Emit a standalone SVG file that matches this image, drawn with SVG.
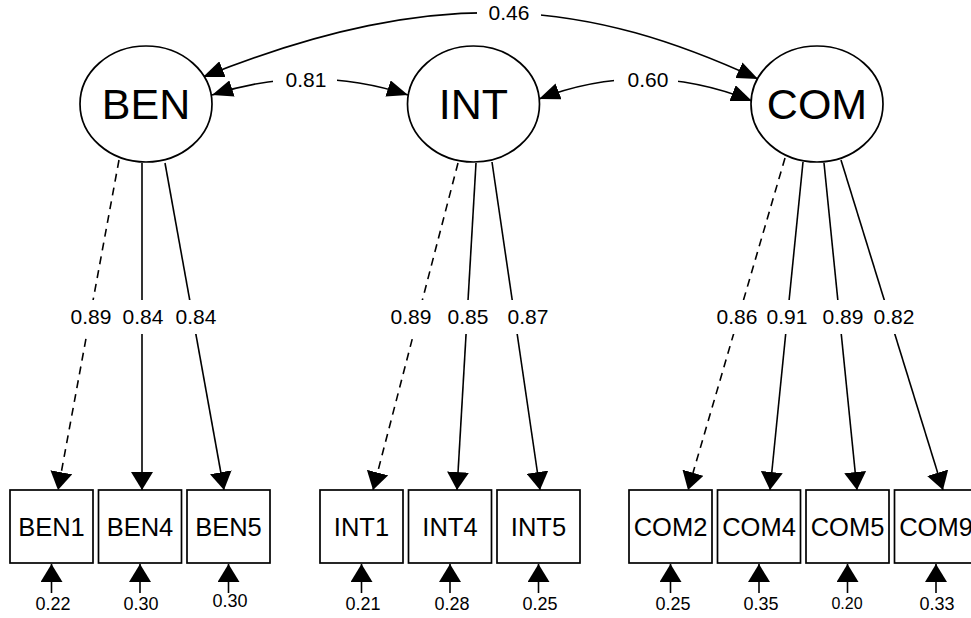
<svg xmlns="http://www.w3.org/2000/svg" width="971" height="618" viewBox="0 0 971 618">
<style>
  text { font-family: "Liberation Sans", Arial, Helvetica, sans-serif; fill: #000; }
  .lat { fill: #fff; stroke: #000; stroke-width: 1.7; }
  .obs { fill: #fff; stroke: #000; stroke-width: 1.7; }
  .latt { font-size: 43px; text-anchor: middle; }
  .obst { font-size: 25.5px; text-anchor: middle; }
  .lbl { font-size: 21px; text-anchor: middle; }
  .err { font-size: 18px; text-anchor: middle; }
  .ln { fill: none; stroke: #000; stroke-width: 1.6; }
  .dash { stroke-dasharray: 8 6; }
  .bg { fill: #fff; stroke: none; }
</style>
<defs>
  <marker id="ah" markerUnits="userSpaceOnUse" markerWidth="18" markerHeight="22" refX="18" refY="11" orient="auto" viewBox="0 0 18 22">
    <path d="M0,0 L18,11 L0,22 z" fill="#000"/>
  </marker>
  <marker id="ac" markerUnits="userSpaceOnUse" markerWidth="21" markerHeight="17" refX="21" refY="8.5" orient="auto-start-reverse" viewBox="0 0 21 17">
    <path d="M0,0 L21,8.5 L0,17 z" fill="#000"/>
  </marker>
</defs>
<rect width="971" height="618" fill="#fff"/>

<g id="connectors">
  <path class="ln" d="M203,77 C445,-20 592,2.6 758,79" marker-start="url(#ac)" marker-end="url(#ac)"/>
  <path class="ln" d="M212,95 Q310,63 408,95" marker-start="url(#ac)" marker-end="url(#ac)"/>
  <path class="ln" d="M539,99 Q645,58 752,101" marker-start="url(#ac)" marker-end="url(#ac)"/>
  <line class="ln dash" x1="119" y1="160" x2="58" y2="490" marker-end="url(#ah)"/>
  <line class="ln" x1="142" y1="163" x2="142" y2="490" marker-end="url(#ah)"/>
  <line class="ln" x1="165" y1="163" x2="224" y2="490" marker-end="url(#ah)"/>
  <line class="ln dash" x1="458" y1="163" x2="373" y2="490" marker-end="url(#ah)"/>
  <line class="ln" x1="476" y1="163" x2="457" y2="490" marker-end="url(#ah)"/>
  <line class="ln" x1="492" y1="162" x2="540" y2="490" marker-end="url(#ah)"/>
  <line class="ln dash" x1="785" y1="158" x2="688" y2="490" marker-end="url(#ah)"/>
  <line class="ln" x1="803" y1="162" x2="770" y2="490" marker-end="url(#ah)"/>
  <line class="ln" x1="824" y1="163" x2="857" y2="490" marker-end="url(#ah)"/>
  <line class="ln" x1="841" y1="160" x2="943" y2="490" marker-end="url(#ah)"/>
  <line class="ln" x1="51.5" y1="593" x2="51.5" y2="564" marker-end="url(#ah)"/>
  <line class="ln" x1="140" y1="593" x2="140" y2="564" marker-end="url(#ah)"/>
  <line class="ln" x1="228.5" y1="593" x2="228.5" y2="564" marker-end="url(#ah)"/>
  <line class="ln" x1="361.5" y1="593" x2="361.5" y2="564" marker-end="url(#ah)"/>
  <line class="ln" x1="450" y1="593" x2="450" y2="564" marker-end="url(#ah)"/>
  <line class="ln" x1="538.5" y1="593" x2="538.5" y2="564" marker-end="url(#ah)"/>
  <line class="ln" x1="670.5" y1="593" x2="670.5" y2="564" marker-end="url(#ah)"/>
  <line class="ln" x1="759" y1="593" x2="759" y2="564" marker-end="url(#ah)"/>
  <line class="ln" x1="847.5" y1="593" x2="847.5" y2="564" marker-end="url(#ah)"/>
  <line class="ln" x1="936" y1="593" x2="936" y2="564" marker-end="url(#ah)"/>

  <rect class="bg" x="477" y="2" width="64" height="24"/>
  <text class="lbl" x="509" y="20">0.46</text>
  <rect class="bg" x="273" y="70" width="64" height="24"/>
  <text class="lbl" x="306" y="87">0.81</text>
  <rect class="bg" x="614" y="70" width="64" height="24"/>
  <text class="lbl" x="648" y="87">0.60</text>

  <rect class="bg" x="66" y="300" width="50" height="34"/>
  <text class="lbl" x="91" y="324">0.89</text>
  <rect class="bg" x="118" y="300" width="50" height="34"/>
  <text class="lbl" x="143" y="324">0.84</text>
  <rect class="bg" x="171" y="300" width="50" height="34"/>
  <text class="lbl" x="196" y="324">0.84</text>
  <rect class="bg" x="386" y="300" width="50" height="34"/>
  <text class="lbl" x="411" y="324">0.89</text>
  <rect class="bg" x="443" y="300" width="50" height="34"/>
  <text class="lbl" x="468" y="324">0.85</text>
  <rect class="bg" x="503" y="300" width="50" height="34"/>
  <text class="lbl" x="528" y="324">0.87</text>
  <rect class="bg" x="712" y="300" width="50" height="34"/>
  <text class="lbl" x="737" y="324">0.86</text>
  <rect class="bg" x="762" y="300" width="50" height="34"/>
  <text class="lbl" x="787" y="324">0.91</text>
  <rect class="bg" x="818" y="300" width="50" height="34"/>
  <text class="lbl" x="843" y="324">0.89</text>
  <rect class="bg" x="869" y="300" width="50" height="34"/>
  <text class="lbl" x="894" y="324">0.82</text>

  <text class="err" x="53" y="610">0.22</text>
  <text class="err" x="141" y="610">0.30</text>
  <text class="err" x="230" y="607">0.30</text>
  <text class="err" x="363" y="610">0.21</text>
  <text class="err" x="452" y="610">0.28</text>
  <text class="err" x="540" y="610">0.25</text>
  <text class="err" x="673" y="610">0.25</text>
  <text class="err" x="761" y="610">0.35</text>
  <text class="err" x="847" y="609" style="font-size:16px">0.20</text>
  <text class="err" x="937" y="610">0.33</text>
</g>

<g id="BEN">
  <ellipse class="lat" cx="146" cy="104" rx="66" ry="58"/>
  <text class="latt" x="146" y="119">BEN</text>
</g>
<g id="INT">
  <ellipse class="lat" cx="473.5" cy="104" rx="66" ry="58"/>
  <text class="latt" x="473.5" y="119">INT</text>
</g>
<g id="COM">
  <ellipse class="lat" cx="817" cy="104" rx="66" ry="58"/>
  <text class="latt" x="817" y="119">COM</text>
</g>

<g id="BEN1"><rect class="obs" x="10" y="490" width="83" height="73"/><text class="obst" x="51.5" y="536">BEN1</text></g>
<g id="BEN4"><rect class="obs" x="98.5" y="490" width="83" height="73"/><text class="obst" x="140" y="536">BEN4</text></g>
<g id="BEN5"><rect class="obs" x="187" y="490" width="83" height="73"/><text class="obst" x="228.5" y="536">BEN5</text></g>
<g id="INT1"><rect class="obs" x="320" y="490" width="83" height="73"/><text class="obst" x="361.5" y="536">INT1</text></g>
<g id="INT4"><rect class="obs" x="408.5" y="490" width="83" height="73"/><text class="obst" x="450" y="536">INT4</text></g>
<g id="INT5"><rect class="obs" x="497" y="490" width="83" height="73"/><text class="obst" x="538.5" y="536">INT5</text></g>
<g id="COM2"><rect class="obs" x="629" y="490" width="83" height="73"/><text class="obst" x="670.5" y="536">COM2</text></g>
<g id="COM4"><rect class="obs" x="717.5" y="490" width="83" height="73"/><text class="obst" x="759" y="536">COM4</text></g>
<g id="COM5"><rect class="obs" x="806" y="490" width="83" height="73"/><text class="obst" x="847.5" y="536">COM5</text></g>
<g id="COM9"><rect class="obs" x="894.5" y="490" width="83" height="73"/><text class="obst" x="936" y="536">COM9</text></g>
</svg>
